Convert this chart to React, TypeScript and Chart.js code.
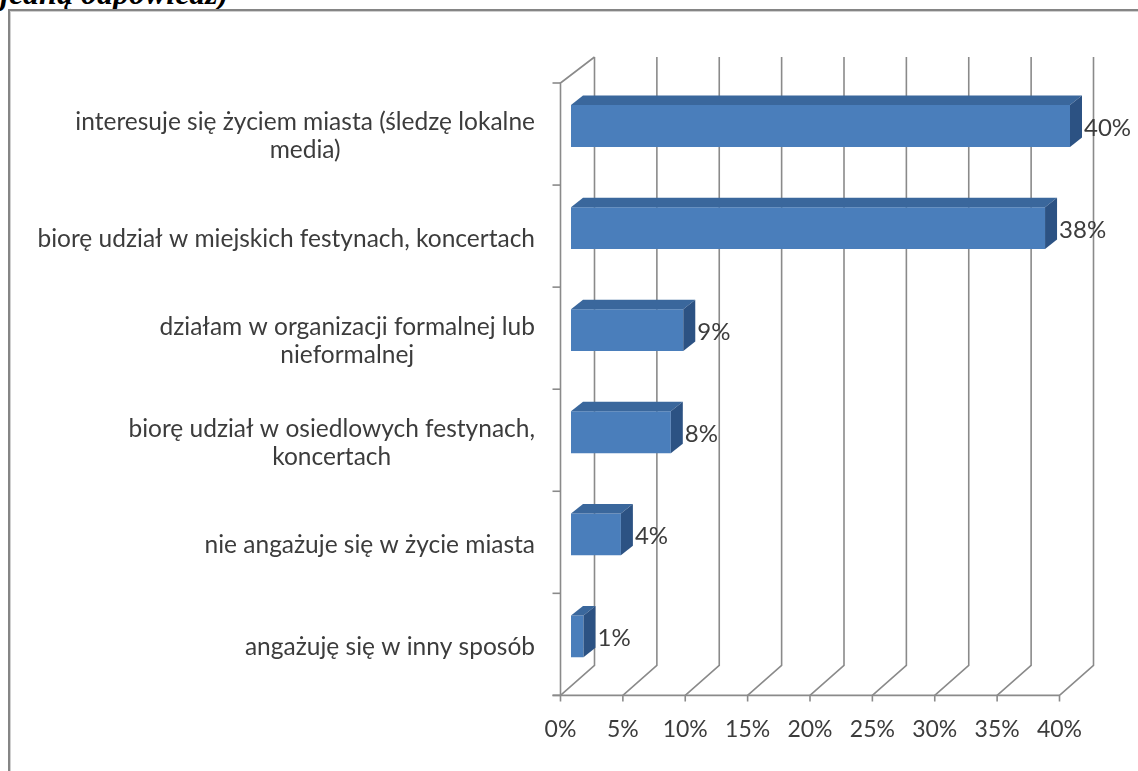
import React, { useEffect, useRef } from "react";
import { Chart, registerables } from "chart.js";

Chart.register(...registerables);

// ---- data ----
const categories: string[][] = [
  ["interesuje się życiem miasta (śledzę lokalne", "media)"],
  ["biorę udział w miejskich festynach, koncertach"],
  ["działam w organizacji formalnej lub", "nieformalnej"],
  ["biorę udział w osiedlowych festynach,", "koncertach"],
  ["nie angażuje się w życie miasta"],
  ["angażuję się w inny sposób"],
];
const values: number[] = [40, 38, 9, 8, 4, 1];
const axisMin = 0;
const axisMax = 40;
const axisStep = 5;
const captionText = "jedną odpowiedź)";

// ---- style constants ----
const FONT = "Lato, 'Open Sans', sans-serif";
const TEXT = "#3c3c3c";
const GRID = "#8a8a8a";
const FRONT_DX = -10.5; // bar plane -> front plane
const FRONT_DY = 8;
const BACK_DX = 34; // front plane -> back wall
const BACK_DY_TOP = -26;
const BACK_DY_BOTTOM = -30;
const BAR_DX = 12; // bar depth
const BAR_DY = -9.5;
const LABEL_RIGHT = 535;
const LINE_GAP = 28;
const LABEL_SIZE = 24.5;
const VALUE_SIZE = 24;

const threeD = {
  id: "threeD",
  beforeDatasetsDraw(chart: any) {
    const { ctx, chartArea, scales } = chart;
    const xs = scales.x;
    const fTop = chartArea.top + FRONT_DY;
    const fBot = chartArea.bottom + FRONT_DY;
    const bTop = fTop + BACK_DY_TOP;
    const bBot = fBot + BACK_DY_BOTTOM;
    ctx.save();
    ctx.strokeStyle = GRID;
    ctx.lineWidth = 1.6;
    for (let v = axisMin; v <= axisMax; v += axisStep) {
      const xf = xs.getPixelForValue(v) + FRONT_DX;
      const xb = xf + BACK_DX;
      ctx.beginPath();
      ctx.moveTo(xb, bTop);
      ctx.lineTo(xb, bBot);
      ctx.lineTo(xf, fBot);
      ctx.lineTo(xf, fBot + 6);
      ctx.stroke();
    }
    const x0 = xs.getPixelForValue(axisMin) + FRONT_DX;
    const x1 = xs.getPixelForValue(axisMax) + FRONT_DX;
    ctx.beginPath();
    ctx.moveTo(x0 - 8, fBot);
    ctx.lineTo(x1, fBot);
    ctx.stroke();
    ctx.beginPath();
    ctx.moveTo(x0, fBot);
    ctx.lineTo(x0, fTop);
    ctx.lineTo(x0 + BACK_DX, bTop);
    ctx.stroke();
    const n = categories.length;
    const band = (fBot - fTop) / n;
    for (let i = 0; i <= n; i++) {
      const y = fTop + i * band;
      ctx.beginPath();
      ctx.moveTo(x0 - 8, y);
      ctx.lineTo(x0, y);
      ctx.stroke();
    }
    ctx.restore();
  },
  afterDatasetsDraw(chart: any) {
    const { ctx, scales } = chart;
    const ys = scales.y;
    const meta = chart.getDatasetMeta(0);
    ctx.save();
    meta.data.forEach((el: any, i: number) => {
      const p = el.getProps(["x", "y", "base", "height"], true);
      const left = Math.min(p.base, p.x);
      const right = Math.max(p.base, p.x);
      const top = p.y - p.height / 2;
      const bottom = p.y + p.height / 2;
      ctx.fillStyle = "#3A679C";
      ctx.beginPath();
      ctx.moveTo(left, top);
      ctx.lineTo(right, top);
      ctx.lineTo(right + BAR_DX, top + BAR_DY);
      ctx.lineTo(left + BAR_DX, top + BAR_DY);
      ctx.closePath();
      ctx.fill();
      ctx.fillStyle = "#2C5283";
      ctx.beginPath();
      ctx.moveTo(right, top);
      ctx.lineTo(right + BAR_DX, top + BAR_DY);
      ctx.lineTo(right + BAR_DX, bottom + BAR_DY);
      ctx.lineTo(right, bottom);
      ctx.closePath();
      ctx.fill();
      ctx.fillStyle = TEXT;
      ctx.font = `${VALUE_SIZE}px ${FONT}`;
      ctx.textAlign = "left";
      ctx.textBaseline = "middle";
      ctx.fillText(values[i] + "%", right + BAR_DX + 2, p.y + 2);
    });
    ctx.font = `${LABEL_SIZE}px ${FONT}`;
    ctx.fillStyle = TEXT;
    ctx.textAlign = "center";
    ctx.textBaseline = "middle";
    categories.forEach((lines, i) => {
      const cy = ys.getPixelForValue(i) + FRONT_DY + 2.5;
      const maxW = Math.max(...lines.map((l) => ctx.measureText(l).width));
      const cx = LABEL_RIGHT - maxW / 2;
      lines.forEach((l, j) => {
        ctx.fillText(l, cx, cy + (j - (lines.length - 1) / 2) * LINE_GAP);
      });
    });
    ctx.restore();
  },
};

export default function App() {
  const ref = useRef<HTMLCanvasElement | null>(null);
  useEffect(() => {
    if (!ref.current) return;
    const chart = new Chart(ref.current, {
      type: "bar",
      data: {
        labels: categories.map((c) => c.join(" ")),
        datasets: [
          {
            data: values,
            backgroundColor: "#4A7EBB",
            borderWidth: 0,
            barPercentage: 0.41,
            categoryPercentage: 1,
          },
        ],
      },
      options: {
        indexAxis: "y",
        animation: false,
        responsive: false,
        maintainAspectRatio: false,
        devicePixelRatio: 1,
        layout: { padding: { left: 571, right: 68, top: 75, bottom: 0 } },
        plugins: { legend: { display: false }, tooltip: { enabled: false } },
        scales: {
          x: {
            min: axisMin,
            max: axisMax,
            grid: { display: false, drawTicks: false, tickLength: 0 },
            border: { display: false },
            ticks: {
              stepSize: axisStep,
              autoSkip: false,
              maxRotation: 0,
              padding: 28,
              labelOffset: FRONT_DX,
              color: TEXT,
              font: { family: FONT, size: 23 },
              callback: (v: any) => v + "%",
            },
          },
          y: { display: false },
        },
      },
      plugins: [threeD],
    });
    return () => chart.destroy();
  }, []);

  return (
    <div
      style={{
        position: "fixed",
        left: 0,
        top: 0,
        width: 1138,
        height: 771,
        overflow: "hidden",
        background: "#fff",
      }}
    >
      <div
        style={{
          position: "absolute",
          left: 0,
          top: -23,
          fontFamily: "'Liberation Serif', 'Times New Roman', serif",
          fontStyle: "italic",
          fontWeight: "bold",
          fontSize: 32,
          lineHeight: "32px",
          whiteSpace: "nowrap",
          color: "#000",
        }}
      >
        {captionText}
      </div>
      <div
        style={{
          position: "absolute",
          left: 8,
          top: 9,
          width: 1200,
          height: 800,
          borderLeft: "2px solid #858585",
          borderTop: "2px solid #858585",
          boxShadow: "inset 1px 1px 0 #d0d0d0",
        }}
      />
      <canvas
        ref={ref}
        width={1138}
        height={771}
        style={{ position: "absolute", left: 0, top: 0, width: 1138, height: 771 }}
      />
    </div>
  );
}
